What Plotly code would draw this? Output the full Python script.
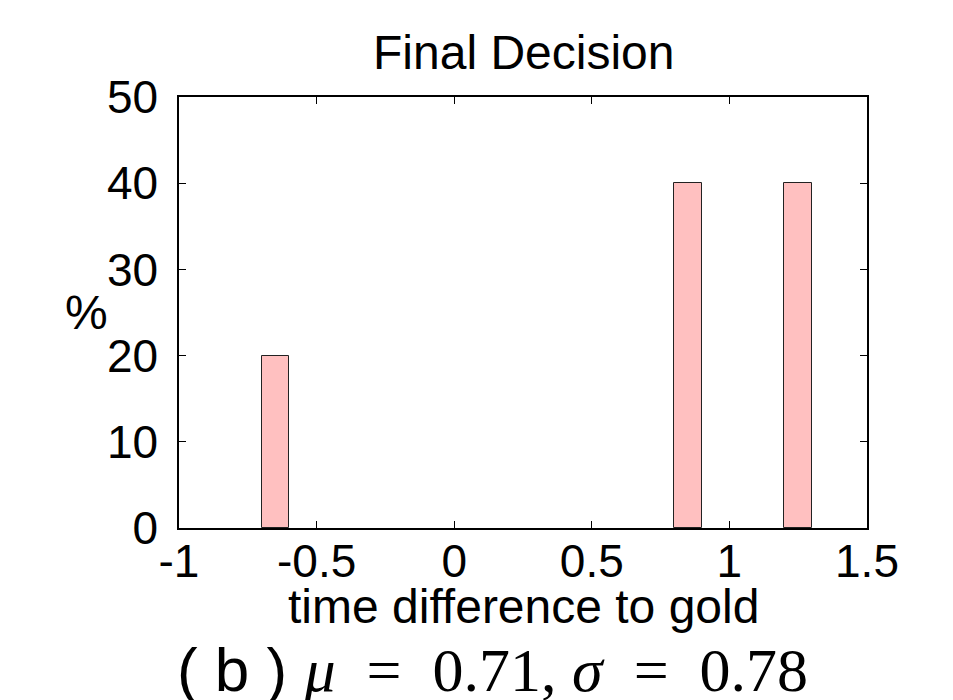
import plotly.graph_objects as go

# Data
bin_centers = [-0.65, 0.85, 1.25]
bin_width = 0.1
percent = [20, 40, 40]
x_ticks = [-1, -0.5, 0, 0.5, 1, 1.5]
x_tick_labels = ["-1", "-0.5", "0", "0.5", "1", "1.5"]
y_ticks = [0, 10, 20, 30, 40, 50]
title_text = "Final Decision"
x_label = "time difference to gold"
y_label = "%"
caption_label = "( b )"
mu, sigma = 0.71, 0.78

SANS = "Liberation Sans, Arial, Helvetica, sans-serif"
SERIF = "Liberation Serif, DejaVu Serif, serif"

fig = go.Figure()
fig.add_trace(go.Bar(
    x=bin_centers, y=percent, width=[bin_width] * len(bin_centers),
    marker=dict(color="#FFC0C0", line=dict(color="#222222", width=1)),
    showlegend=False,
))

axis_common = dict(
    showline=True, linecolor="black", linewidth=1.5, mirror="ticks",
    ticks="inside", ticklen=7, tickwidth=1, tickcolor="black",
    showgrid=False, zeroline=False,
    tickfont=dict(family=SANS, size=46, color="black"),
)

fig.update_layout(
    width=953, height=700,
    margin=dict(l=179, r=86, t=97, b=172),
    paper_bgcolor="white", plot_bgcolor="white",
    xaxis=dict(range=[-1, 1.5], tickvals=x_ticks, ticktext=x_tick_labels,
               ticklabelstandoff=-8, **axis_common),
    yaxis=dict(range=[0, 50], tickvals=y_ticks, ticklabelstandoff=10,
               **axis_common),
    bargap=0,
    annotations=[
        dict(text=title_text, xref="paper", yref="paper", x=0.5, y=1.0,
             yshift=16, xanchor="center", yanchor="bottom", showarrow=False,
             font=dict(family=SANS, size=48, color="black")),
        dict(text=y_label, xref="paper", yref="paper", x=0, y=0.5,
             xshift=-69, xanchor="right", yanchor="middle", showarrow=False,
             font=dict(family=SANS, size=48, color="black")),
        dict(text=x_label, xref="paper", yref="paper", x=0.5, y=0,
             yshift=-50, xanchor="center", yanchor="top", showarrow=False,
             font=dict(family=SANS, size=48, color="black")),
        dict(text=(caption_label + " "
                   + f"<span style='font-family:{SERIF}'><i>μ</i>&nbsp; =&nbsp; {mu:.2f}, "
                   + f"<i>σ</i>&nbsp; =&nbsp; {sigma:.2f}</span>"),
             xref="paper", yref="paper", x=0.456, y=0,
             yshift=-105, xanchor="center", yanchor="top", showarrow=False,
             font=dict(family=SANS, size=62, color="black")),
    ],
)

fig.write_html(
    "out.html",
    config={"displayModeBar": False},
    post_script="document.body.style.margin='0';document.body.style.overflow='hidden';",
)
